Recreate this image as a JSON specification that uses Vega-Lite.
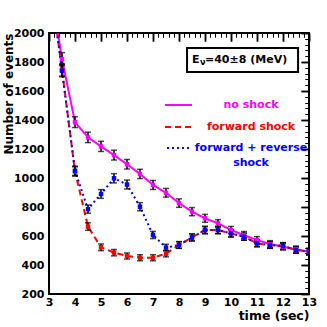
{
  "$schema": "https://vega.github.io/schema/vega-lite/v6.json",
  "width": 260,
  "height": 261,
  "autosize": "none",
  "padding": {"left": 49, "top": 33, "right": 18, "bottom": 33},
  "background": "white",
  "config": {
    "view": {"stroke": "black", "strokeWidth": 2},
    "font": "DejaVu Sans",
    "axis": {"grid": false, "domain": false, "labelFont": "DejaVu Sans", "labelFontWeight": "bold", "labelFontSize": 11, "labelColor": "black", "titleFont": "DejaVu Sans", "titleFontWeight": "bold", "titleColor": "black", "tickColor": "black", "labelFlush": false, "labelOverlap": false}
  },
  "datasets": {
    "pts": [
      {"s": "no shock", "t": 3.25, "n": 2100, "lo": 2055, "hi": 2145},
      {"s": "no shock", "t": 3.5, "n": 1820, "lo": 1775, "hi": 1865},
      {"s": "no shock", "t": 4.0, "n": 1385, "lo": 1348, "hi": 1422},
      {"s": "no shock", "t": 4.5, "n": 1280, "lo": 1244, "hi": 1316},
      {"s": "no shock", "t": 5.0, "n": 1218, "lo": 1183, "hi": 1253},
      {"s": "no shock", "t": 5.5, "n": 1158, "lo": 1124, "hi": 1192},
      {"s": "no shock", "t": 6.0, "n": 1095, "lo": 1062, "hi": 1128},
      {"s": "no shock", "t": 6.5, "n": 1028, "lo": 996, "hi": 1060},
      {"s": "no shock", "t": 7.0, "n": 952, "lo": 921, "hi": 983},
      {"s": "no shock", "t": 7.5, "n": 898, "lo": 868, "hi": 928},
      {"s": "no shock", "t": 8.0, "n": 827, "lo": 798, "hi": 856},
      {"s": "no shock", "t": 8.5, "n": 768, "lo": 740, "hi": 796},
      {"s": "no shock", "t": 9.0, "n": 722, "lo": 695, "hi": 749},
      {"s": "no shock", "t": 9.5, "n": 687, "lo": 661, "hi": 713},
      {"s": "no shock", "t": 10.0, "n": 641, "lo": 616, "hi": 666},
      {"s": "no shock", "t": 10.5, "n": 606, "lo": 581, "hi": 631},
      {"s": "no shock", "t": 11.0, "n": 572, "lo": 548, "hi": 596},
      {"s": "no shock", "t": 11.5, "n": 545, "lo": 522, "hi": 568},
      {"s": "no shock", "t": 12.0, "n": 526, "lo": 503, "hi": 549},
      {"s": "no shock", "t": 12.5, "n": 508, "lo": 485, "hi": 531},
      {"s": "no shock", "t": 13.0, "n": 492, "lo": 470, "hi": 514},
      {"s": "forward shock", "t": 3.25, "n": 2080, "lo": 2035, "hi": 2125},
      {"s": "forward shock", "t": 3.5, "n": 1745, "lo": 1703, "hi": 1787},
      {"s": "forward shock", "t": 4.0, "n": 1045, "lo": 1013, "hi": 1077},
      {"s": "forward shock", "t": 4.5, "n": 665, "lo": 639, "hi": 691},
      {"s": "forward shock", "t": 5.0, "n": 522, "lo": 499, "hi": 545},
      {"s": "forward shock", "t": 5.5, "n": 485, "lo": 463, "hi": 507},
      {"s": "forward shock", "t": 6.0, "n": 462, "lo": 441, "hi": 483},
      {"s": "forward shock", "t": 6.5, "n": 450, "lo": 429, "hi": 471},
      {"s": "forward shock", "t": 7.0, "n": 450, "lo": 429, "hi": 471},
      {"s": "forward shock", "t": 7.5, "n": 478, "lo": 456, "hi": 500},
      {"s": "forward shock", "t": 8.0, "n": 538, "lo": 515, "hi": 561},
      {"s": "forward shock", "t": 8.5, "n": 590, "lo": 566, "hi": 614},
      {"s": "forward shock", "t": 9.0, "n": 641, "lo": 616, "hi": 666},
      {"s": "forward shock", "t": 9.5, "n": 641, "lo": 616, "hi": 666},
      {"s": "forward shock", "t": 10.0, "n": 618, "lo": 593, "hi": 643},
      {"s": "forward shock", "t": 10.5, "n": 595, "lo": 571, "hi": 619},
      {"s": "forward shock", "t": 11.0, "n": 549, "lo": 526, "hi": 572},
      {"s": "forward shock", "t": 11.5, "n": 538, "lo": 515, "hi": 561},
      {"s": "forward shock", "t": 12.0, "n": 531, "lo": 508, "hi": 554},
      {"s": "forward shock", "t": 12.5, "n": 503, "lo": 481, "hi": 525},
      {"s": "forward shock", "t": 13.0, "n": 492, "lo": 470, "hi": 514},
      {"s": "forward + reverse shock", "t": 3.25, "n": 2080, "lo": 2035, "hi": 2125},
      {"s": "forward + reverse shock", "t": 3.5, "n": 1740, "lo": 1698, "hi": 1782},
      {"s": "forward + reverse shock", "t": 4.0, "n": 1050, "lo": 1018, "hi": 1082},
      {"s": "forward + reverse shock", "t": 4.5, "n": 785, "lo": 757, "hi": 813},
      {"s": "forward + reverse shock", "t": 5.0, "n": 890, "lo": 860, "hi": 920},
      {"s": "forward + reverse shock", "t": 5.5, "n": 998, "lo": 966, "hi": 1030},
      {"s": "forward + reverse shock", "t": 6.0, "n": 955, "lo": 924, "hi": 986},
      {"s": "forward + reverse shock", "t": 6.5, "n": 802, "lo": 774, "hi": 830},
      {"s": "forward + reverse shock", "t": 7.0, "n": 607, "lo": 582, "hi": 632},
      {"s": "forward + reverse shock", "t": 7.5, "n": 520, "lo": 497, "hi": 543},
      {"s": "forward + reverse shock", "t": 8.0, "n": 538, "lo": 515, "hi": 561},
      {"s": "forward + reverse shock", "t": 8.5, "n": 590, "lo": 566, "hi": 614},
      {"s": "forward + reverse shock", "t": 9.0, "n": 641, "lo": 616, "hi": 666},
      {"s": "forward + reverse shock", "t": 9.5, "n": 641, "lo": 616, "hi": 666},
      {"s": "forward + reverse shock", "t": 10.0, "n": 618, "lo": 593, "hi": 643},
      {"s": "forward + reverse shock", "t": 10.5, "n": 595, "lo": 571, "hi": 619},
      {"s": "forward + reverse shock", "t": 11.0, "n": 549, "lo": 526, "hi": 572},
      {"s": "forward + reverse shock", "t": 11.5, "n": 538, "lo": 515, "hi": 561},
      {"s": "forward + reverse shock", "t": 12.0, "n": 531, "lo": 508, "hi": 554},
      {"s": "forward + reverse shock", "t": 12.5, "n": 503, "lo": 481, "hi": 525},
      {"s": "forward + reverse shock", "t": 13.0, "n": 492, "lo": 470, "hi": 514}
    ],
    "legline": [
      {"s": "no shock", "x1": 7.46, "x2": 8.5, "y": 1503},
      {"s": "forward shock", "x1": 7.46, "x2": 8.5, "y": 1352},
      {"s": "forward + reverse shock", "x1": 7.54, "x2": 8.5, "y": 1207}
    ],
    "legtext": [
      {"s": "no shock", "x": 10.77, "y": 1503, "label": "no shock"},
      {"s": "forward shock", "x": 10.77, "y": 1352, "label": "forward shock"},
      {"s": "forward + reverse shock", "x": 10.77, "y": 1207, "label": "forward + reverse"},
      {"s": "forward + reverse shock", "x": 10.77, "y": 1103, "label": "shock"}
    ],
    "box": [{"x1": 8.31, "x2": 12.58, "y1": 1897, "y2": 1731, "tx": 8.5, "ty": 1814}]
  },
  "layer": [
    {
      "data": {"name": "pts"},
      "mark": {"type": "point", "opacity": 0},
      "encoding": {
        "x": {"field": "t", "type": "quantitative", "scale": {"domain": [3, 13], "nice": false, "zero": false},
          "axis": {"ticks": false, "values": [3,4,5,6,7,8,9,10,11,12,13], "format": "d", "labelPadding": 2, "labelBaseline": "top", "title": "time (sec)", "titleAnchor": "end", "titleFontSize": 12.5, "titlePadding": 2}},
        "y": {"field": "n", "type": "quantitative", "scale": {"domain": [200, 2000], "nice": false, "zero": false},
          "axis": {"ticks": false, "values": [200,400,600,800,1000,1200,1400,1600,1800,2000], "format": "d", "labelPadding": 5, "title": "Number of events", "titleFontSize": 12, "titleAngle": -90, "titleX": -41, "titleY": 0, "titleAlign": "right", "titleBaseline": "middle"}}
      }
    },
    {
      "data": {"name": "pts"},
      "mark": {"type": "point", "opacity": 0},
      "encoding": {
        "x": {"field": "t", "type": "quantitative", "axis": {"labels": false, "title": null, "tickSize": -8, "tickWidth": 1.5, "values": [3,4,5,6,7,8,9,10,11,12,13]}},
        "y": {"field": "n", "type": "quantitative", "axis": {"labels": false, "title": null, "tickSize": -8, "tickWidth": 1.5, "values": [200,400,600,800,1000,1200,1400,1600,1800,2000]}}
      }
    },
    {
      "data": {"name": "pts"},
      "mark": {"type": "point", "opacity": 0},
      "encoding": {
        "x": {"field": "t", "type": "quantitative", "axis": {"labels": false, "title": null, "tickSize": -4, "tickWidth": 1, "values": [3.2,3.4,3.6,3.8,4.2,4.4,4.6,4.8,5.2,5.4,5.6,5.8,6.2,6.4,6.6,6.8,7.2,7.4,7.6,7.8,8.2,8.4,8.6,8.8,9.2,9.4,9.6,9.8,10.2,10.4,10.6,10.8,11.2,11.4,11.6,11.8,12.2,12.4,12.6,12.8]}},
        "y": {"field": "n", "type": "quantitative", "axis": {"labels": false, "title": null, "tickSize": -4, "tickWidth": 1, "values": [240,280,320,360,440,480,520,560,640,680,720,760,840,880,920,960,1040,1080,1120,1160,1240,1280,1320,1360,1440,1480,1520,1560,1640,1680,1720,1760,1840,1880,1920,1960]}}
      }
    },
    {
      "data": {"name": "pts"},
      "mark": {"type": "point", "opacity": 0},
      "encoding": {
        "x": {"field": "t", "type": "quantitative", "axis": {"orient": "top", "labels": false, "title": null, "tickSize": -8, "tickWidth": 1.5, "values": [3,4,5,6,7,8,9,10,11,12,13]}},
        "y": {"field": "n", "type": "quantitative", "axis": {"orient": "right", "labels": false, "title": null, "tickSize": -8, "tickWidth": 1.5, "values": [200,400,600,800,1000,1200,1400,1600,1800,2000]}}
      }
    },
    {
      "data": {"name": "pts"},
      "mark": {"type": "point", "opacity": 0},
      "encoding": {
        "x": {"field": "t", "type": "quantitative", "axis": {"orient": "top", "labels": false, "title": null, "tickSize": -4, "tickWidth": 1, "values": [3.2,3.4,3.6,3.8,4.2,4.4,4.6,4.8,5.2,5.4,5.6,5.8,6.2,6.4,6.6,6.8,7.2,7.4,7.6,7.8,8.2,8.4,8.6,8.8,9.2,9.4,9.6,9.8,10.2,10.4,10.6,10.8,11.2,11.4,11.6,11.8,12.2,12.4,12.6,12.8]}},
        "y": {"field": "n", "type": "quantitative", "axis": {"orient": "right", "labels": false, "title": null, "tickSize": -4, "tickWidth": 1, "values": [240,280,320,360,440,480,520,560,640,680,720,760,840,880,920,960,1040,1080,1120,1160,1240,1280,1320,1360,1440,1480,1520,1560,1640,1680,1720,1760,1840,1880,1920,1960]}}
      }
    },
    {
      "data": {"name": "pts"},
      "mark": {"type": "line", "strokeWidth": 2, "clip": true},
      "encoding": {
        "x": {"field": "t", "type": "quantitative", "axis": null},
        "y": {"field": "n", "type": "quantitative", "axis": null},
        "color": {"field": "s", "type": "nominal", "legend": null, "sort": null, "scale": {"domain": ["no shock", "forward shock", "forward + reverse shock"], "range": ["#ff00ff", "#ff0000", "#0000ff"]}},
        "strokeDash": {"field": "s", "type": "nominal", "legend": null, "sort": null, "scale": {"domain": ["no shock", "forward shock", "forward + reverse shock"], "range": [[1, 0], [6, 4], [2, 3]]}},
        "order": {"field": "t", "type": "quantitative"}
      }
    },
    {
      "data": {"name": "pts"},
      "mark": {"type": "rule", "color": "black", "strokeWidth": 1.5, "clip": true},
      "encoding": {
        "x": {"field": "t", "type": "quantitative", "axis": null},
        "y": {"field": "lo", "type": "quantitative", "axis": null},
        "y2": {"field": "hi"}
      }
    },
    {
      "data": {"name": "pts"},
      "mark": {"type": "tick", "orient": "horizontal", "color": "black", "size": 6, "thickness": 1.5, "clip": true},
      "encoding": {
        "x": {"field": "t", "type": "quantitative", "axis": null},
        "y": {"field": "lo", "type": "quantitative", "axis": null}
      }
    },
    {
      "data": {"name": "pts"},
      "mark": {"type": "tick", "orient": "horizontal", "color": "black", "size": 6, "thickness": 1.5, "clip": true},
      "encoding": {
        "x": {"field": "t", "type": "quantitative", "axis": null},
        "y": {"field": "hi", "type": "quantitative", "axis": null}
      }
    },
    {
      "data": {"name": "pts"},
      "mark": {"type": "square", "size": 20, "filled": true, "opacity": 1, "clip": true},
      "encoding": {
        "x": {"field": "t", "type": "quantitative", "axis": null},
        "y": {"field": "n", "type": "quantitative", "axis": null},
        "color": {"field": "s", "type": "nominal", "legend": null, "sort": null}
      }
    },
    {
      "data": {"name": "legline"},
      "mark": {"type": "rule", "strokeWidth": 2},
      "encoding": {
        "x": {"field": "x1", "type": "quantitative", "axis": null},
        "x2": {"field": "x2"},
        "y": {"field": "y", "type": "quantitative", "axis": null},
        "color": {"field": "s", "type": "nominal", "legend": null, "sort": null},
        "strokeDash": {"field": "s", "type": "nominal", "legend": null, "sort": null}
      }
    },
    {
      "data": {"name": "legtext"},
      "mark": {"type": "text", "font": "DejaVu Sans", "fontWeight": "bold", "fontSize": 11, "align": "center", "baseline": "middle"},
      "encoding": {
        "x": {"field": "x", "type": "quantitative", "axis": null},
        "y": {"field": "y", "type": "quantitative", "axis": null},
        "text": {"field": "label"},
        "color": {"field": "s", "type": "nominal", "legend": null, "sort": null}
      }
    },
    {
      "data": {"name": "box"},
      "mark": {"type": "rect", "fill": "white", "stroke": "black", "strokeWidth": 2},
      "encoding": {
        "x": {"field": "x1", "type": "quantitative", "axis": null},
        "x2": {"field": "x2"},
        "y": {"field": "y1", "type": "quantitative", "axis": null},
        "y2": {"field": "y2"}
      }
    },
    {
      "data": {"name": "box"},
      "mark": {"type": "text", "font": "DejaVu Sans", "fontWeight": "bold", "fontSize": 11, "align": "left", "baseline": "middle", "color": "black"},
      "encoding": {
        "x": {"field": "tx", "type": "quantitative", "axis": null},
        "y": {"field": "ty", "type": "quantitative", "axis": null},
        "text": {"value": "E"}
      }
    },
    {
      "data": {"name": "box"},
      "mark": {"type": "text", "font": "DejaVu Sans", "fontWeight": "bold", "fontSize": 8, "align": "left", "baseline": "middle", "color": "black", "dx": 8, "dy": 3},
      "encoding": {
        "x": {"field": "tx", "type": "quantitative", "axis": null},
        "y": {"field": "ty", "type": "quantitative", "axis": null},
        "text": {"value": "ν"}
      }
    },
    {
      "data": {"name": "box"},
      "mark": {"type": "text", "font": "DejaVu Sans", "fontWeight": "bold", "fontSize": 11, "align": "left", "baseline": "middle", "color": "black", "dx": 13},
      "encoding": {
        "x": {"field": "tx", "type": "quantitative", "axis": null},
        "y": {"field": "ty", "type": "quantitative", "axis": null},
        "text": {"value": "=40±8 (MeV)"}
      }
    }
  ],
  "resolve": {"axis": {"x": "independent", "y": "independent"}}
}
